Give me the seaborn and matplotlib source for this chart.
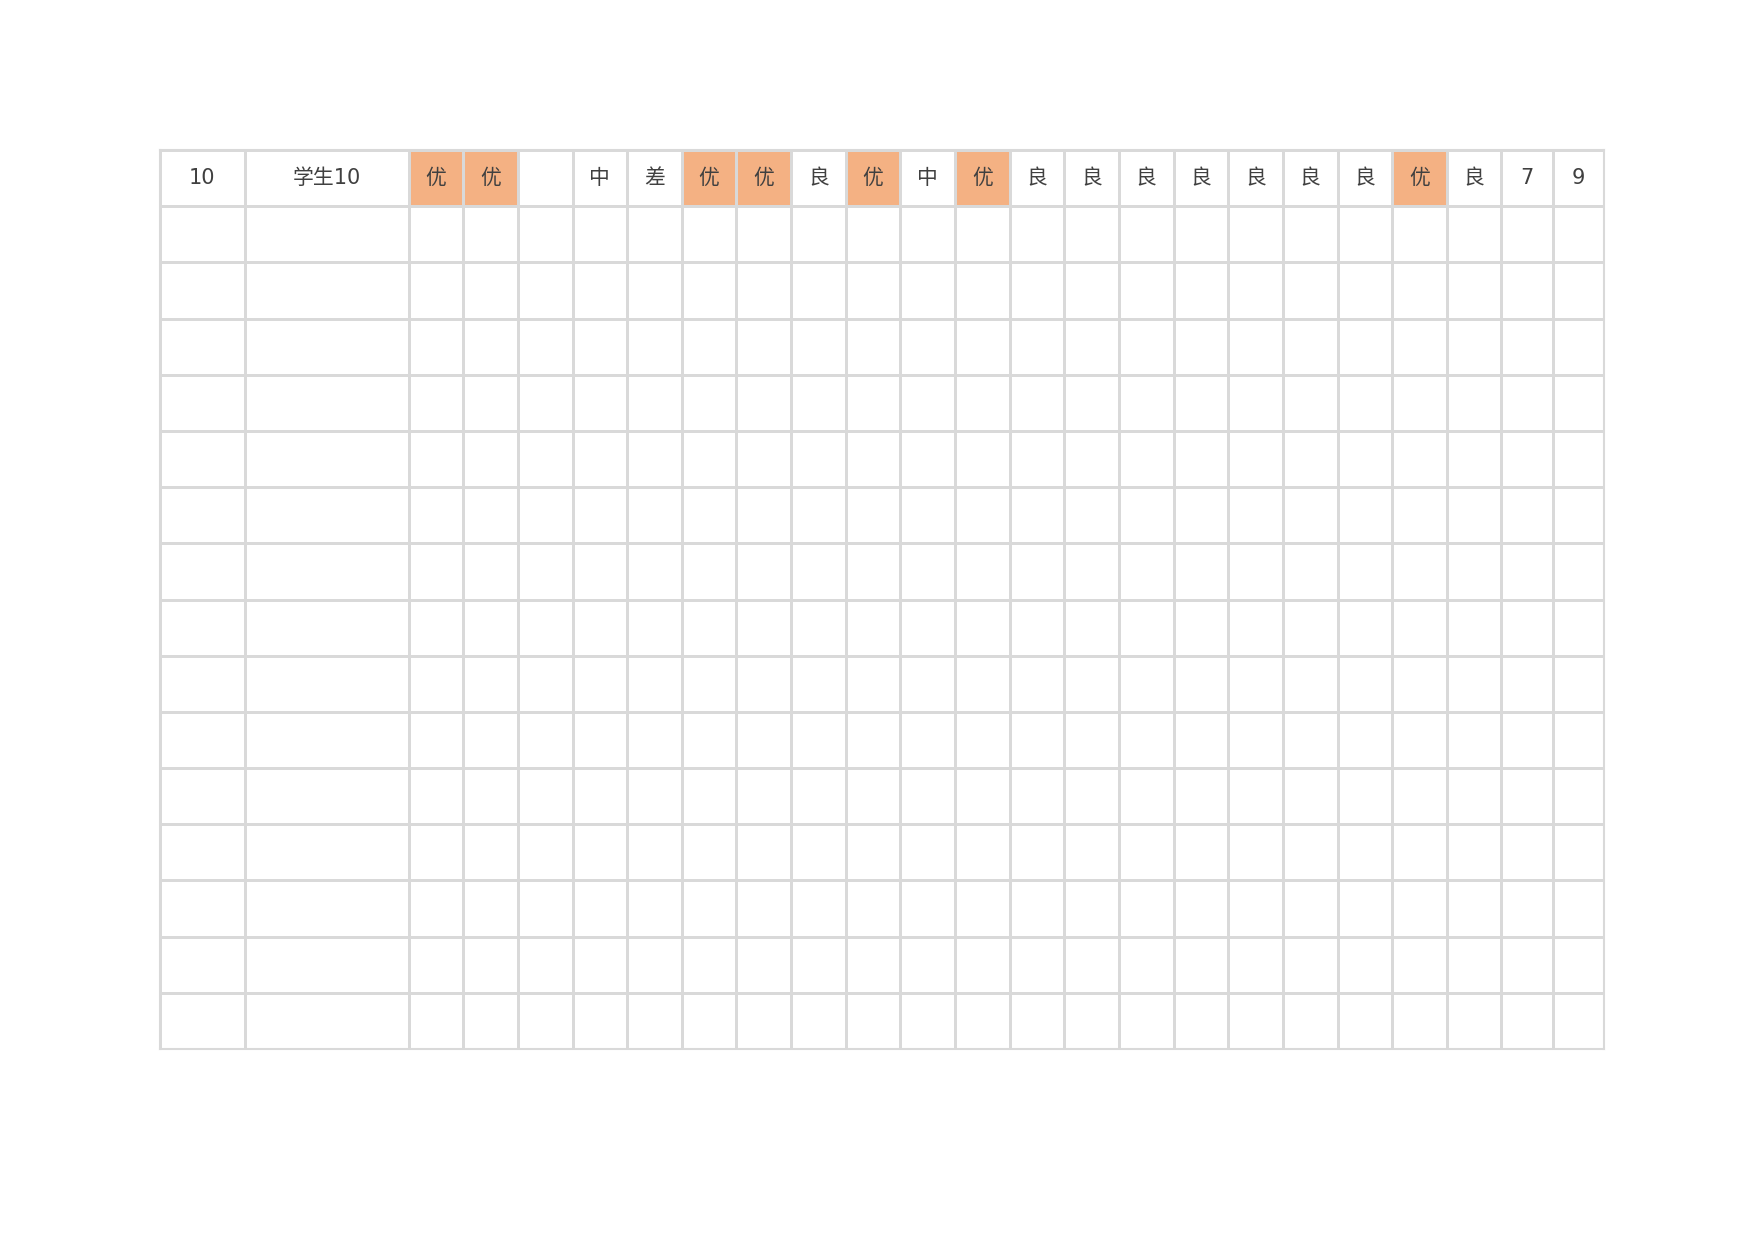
import numpy as np
import matplotlib.pyplot as plt
from matplotlib.colors import ListedColormap
import seaborn as sns

# header row of the table, the rest is empty
header = ["10", "学生10", "优", "优", "", "中", "差", "优", "优", "良", "优", "中",
          "优", "良", "良", "良", "良", "良", "良", "良", "优", "良", "7", "9"]
n_empty_rows = 15
col_widths = [76, 147] + [49] * 20 + [46, 46]

sns.set_theme(style="white")
plt.rcParams['font.family'] = ['DejaVu Sans', 'Noto Sans CJK SC']

fig = plt.figure(figsize=(17.54, 12.40), dpi=100)
ax = fig.add_axes([160 / 1754, 1 - 1049 / 1240, 1444 / 1754, 899 / 1240])

n_rows = n_empty_rows + 1
x_edges = np.concatenate([[0], np.cumsum(col_widths)])
y_edges = np.arange(n_rows + 1)

# 1 = highlighted cell
flags = np.zeros((n_rows, len(header)))
flags[0] = [1 if h == "优" else 0 for h in header]

ax.pcolormesh(x_edges, y_edges, flags, cmap=ListedColormap(["white", "#F4B183"]),
              vmin=0, vmax=1, edgecolors="#d9d9d9", linewidth=1.0)

centers = (x_edges[:-1] + x_edges[1:]) / 2
for xc, txt in zip(centers, header):
    ax.text(xc, 0.5, txt, ha="center", va="center", fontsize=15, color="#404040")

ax.set_xlim(x_edges[0], x_edges[-1])
ax.set_ylim(n_rows, 0)
ax.set_xticks([])
ax.set_yticks([])
for s in ax.spines.values():
    s.set_color("#d9d9d9")
    s.set_linewidth(1.5)

fig.savefig("out.png", dpi=100, facecolor="white")
